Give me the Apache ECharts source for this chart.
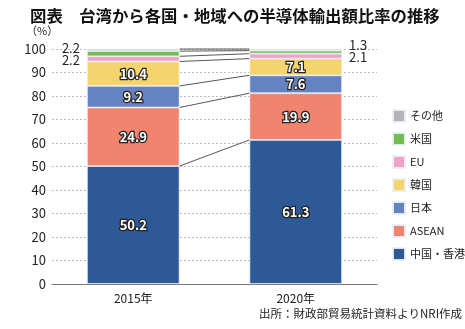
<!DOCTYPE html>
<html><head><meta charset="utf-8">
<script src="https://cdn.jsdelivr.net/npm/echarts@6/dist/echarts.min.js"></script>
<style>html,body{margin:0;padding:0;background:#fff}#c{width:465px;height:329px}</style>
</head><body><div id="c"></div>
<script>
var categories = ['2015年', '2020年'];
var seriesNames = ['中国・香港', 'ASEAN', '日本', '韓国', 'EU', '米国', 'その他'];
var chinaHK = [50.2, 61.3];
var asean = [24.9, 19.9];
var japan = [9.2, 7.6];
var korea = [10.4, 7.1];
var eu = [2.2, 2.1];
var usa = [2.2, 1.3];
var others = [0.9, 0.7];
var yTicks = [0, 10, 20, 30, 40, 50, 60, 70, 80, 90, 100];

var colors = ['#2D5A97', '#F0846E', '#6683C1', '#F5D46E', '#F2A2C6', '#72BE4E', '#B5B5B5'];
var allVals = [chinaHK, asean, japan, korea, eu, usa, others];
var FONT = '"Noto Sans CJK JP", "Noto Sans", sans-serif';

// cumulative boundaries for connector lines
var conn = [];
var c15 = 0, c20 = 0;
for (var i = 0; i < allVals.length; i++) {
  c15 += allVals[i][0]; c20 += allVals[i][1];
  conn.push([0, Math.min(c15, 100), Math.min(c20, 100)]);
}

var series = [];
allVals.forEach(function (vals, idx) {
  var s = {
    name: seriesNames[idx], type: 'bar', stack: 'a',
    barWidth: '57%',
    itemStyle: { color: colors[idx], borderColor: 'rgba(235,240,248,0.9)', borderWidth: 0.8 },
    data: vals.slice(),
    z: 3
  };
  if (idx <= 3) {
    s.label = { show: true, position: 'inside', color: '#fff', fontFamily: FONT, fontSize: 13, fontWeight: 'bold',
      textBorderColor: '#222', textBorderWidth: 2.5, formatter: function (p) { return p.value.toFixed(1); } };
  } else if (idx === 4 || idx === 5) {
    var offs15 = idx === 5 ? [-2, -6] : [-2, 1];
    var offs20 = idx === 5 ? [2, -7] : [2, 1];
    s.data = [
      { value: vals[0], label: { show: true, position: 'left', offset: offs15 } },
      { value: vals[1], label: { show: true, position: 'right', offset: offs20 } }
    ];
    s.label = { color: '#222', fontFamily: FONT, fontSize: 13, formatter: function (p) { return p.value.toFixed(1); } };
  }
  series.push(s);
});

series.push({
  type: 'custom', name: 'conn', silent: true, z: 2,
  encode: { x: 0, y: [1, 2] },
  data: conn,
  renderItem: function (params, api) {
    var a = api.coord([0, api.value(1)]);
    var b = api.coord([1, api.value(2)]);
    var half = api.size([1, 0])[0] * 0.57 / 2;
    return { type: 'line', shape: { x1: a[0] + half, y1: a[1], x2: b[0] - half, y2: b[1] },
      style: { stroke: '#555', lineWidth: 1 } };
  }
});

var chart = echarts.init(document.getElementById('c'), null, { renderer: 'canvas' });
chart.setOption({
  animation: false,
  color: colors,
  title: { text: '図表　台湾から各国・地域への半導体輸出額比率の推移', left: 25, top: 3,
    textStyle: { fontFamily: FONT, fontSize: 16.4, fontWeight: 'bold', color: '#111' } },
  grid: { left: 52, right: 88, top: 49, bottom: 45 },
  legend: {
    orient: 'vertical', left: 387, top: 104, itemWidth: 12, itemHeight: 12, itemGap: 9,
    icon: 'rect',
    data: ['その他', '米国', 'EU', '韓国', '日本', 'ASEAN', '中国・香港'],
    textStyle: { fontFamily: FONT, fontSize: 11, color: '#222' }
  },
  xAxis: {
    type: 'category', data: categories,
    axisLine: { lineStyle: { color: '#777', width: 1 } },
    axisTick: { show: false },
    axisLabel: { color: '#222', fontFamily: FONT, fontSize: 12, margin: 8 }
  },
  yAxis: {
    type: 'value', min: 0, max: 100, interval: 10,
    axisLine: { show: false }, axisTick: { show: false },
    axisLabel: { color: '#222', fontFamily: FONT, fontSize: 13, margin: 6,
      formatter: function (v) { return yTicks.indexOf(v) >= 0 ? String(v) : ''; } },
    splitLine: { lineStyle: { color: '#bbb', type: [2, 2], width: 1 } }
  },
  graphic: [{
    type: 'text', left: 26, top: 25,
    style: { text: '（%）', fontFamily: FONT, fontSize: 11, fill: '#222' }
  }, {
    type: 'text', right: 3, top: 308,
    style: { text: '出所：財政部貿易統計資料よりNRI作成', fontFamily: FONT, fontSize: 11.5, fill: '#222' }
  }],
  series: series
});
</script></body></html>
